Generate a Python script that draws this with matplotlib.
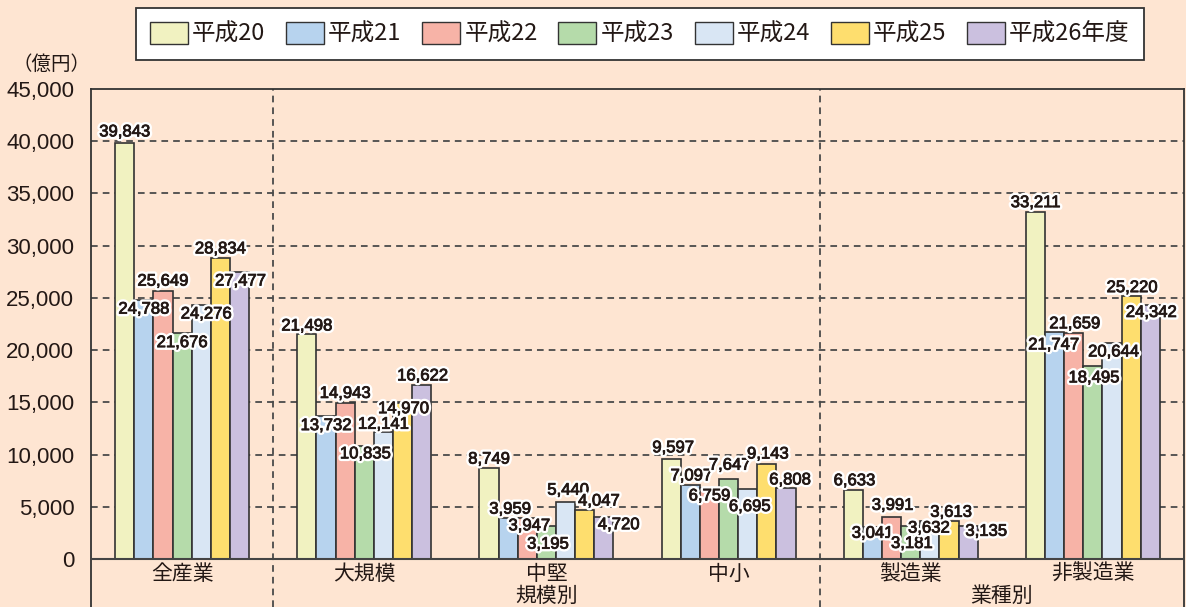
import matplotlib.pyplot as plt
import matplotlib.patheffects as pe
from matplotlib.patches import Patch
from matplotlib.ticker import FuncFormatter
import numpy as np

# データ（億円）
groups = ['全産業', '大規模', '中堅', '中小', '製造業', '非製造業']
series_names = ['平成20', '平成21', '平成22', '平成23', '平成24', '平成25', '平成26年度']
h20 = [39843, 21498, 8749, 9597, 6633, 33211]
h21 = [24788, 13732, 3959, 7097, 3041, 21747]
h22 = [25649, 14943, 3947, 6759, 3991, 21659]
h23 = [21676, 10835, 3195, 7647, 3181, 18495]
h24 = [24276, 12141, 5440, 6695, 3632, 20644]
h25 = [28834, 14970, 4720, 9143, 3613, 25220]
h26 = [27477, 16622, 4047, 6808, 3135, 24342]
series = [h20, h21, h22, h23, h24, h25, h26]

colors = ['#f1f2c1', '#b7d3ee', '#f7b3a7', '#b5dbaa', '#d9e6f4', '#fede6e', '#cbc0df']

# ラベル位置の微調整 (dx, dy) ピクセル、棒の上端からの位置
label_offsets = [
    [(0, 11), (0, 8.5), (0, 8.5), (2, 11), (1, 9), (0, 9.5)],
    [(0, -9), (0, -10), (2, 8.5), (1, 9), (0, -6), (-1, -13)],
    [(0, 10), (0, 9.5), (2, -8), (0, -7.5), (1, 12), (1, 9)],
    [(0, -10), (1, -8), (1.5, -18.5), (1, 14), (1, -17.7), (1, -12)],
    [(5, -8.5), (0, 8), (2.5, 12), (2, -17.5), (-1, -7), (1.5, -8.5)],
    [(0, 9), (1, -6), (34, -15), (1, 9.5), (2, 9), (1, 8)],
    [(1, -9), (1, 9.5), (-5, 15.7), (4, 8), (18, -5), (1, -7.7)],
]

BG = '#fee5d2'
INK = '#231815'
CJK = ['Noto Sans CJK JP', 'DejaVu Sans']
NUM = ['Liberation Sans', 'DejaVu Sans']

fig = plt.figure(figsize=(11.86, 6.07), dpi=100, facecolor=BG)
ax = fig.add_axes([91 / 1186, 0, 1093 / 1186, 518 / 607])
ax.set_facecolor(BG)

ymax = 45000
ymin = -(607 - 559) / 470 * ymax
ax.set_xlim(-0.5, 5.5)
ax.set_ylim(ymin, ymax)

x = np.arange(len(groups))
width = 0.105
n = len(series)

# グリッド（破線）
for yv in range(5000, 45000, 5000):
    ax.axhline(yv, color='#4a4a4a', lw=1.3, ls=(0, (3.7, 2.8)), zorder=1)
for xv in [0.5, 3.5]:
    ax.axvline(xv, color='#4a4a4a', lw=1.3, ls=(0, (3.7, 2.8)), zorder=1)

# 白フチ + 少し太めの数字
halo = [pe.Stroke(linewidth=4, foreground='white'),
        pe.Stroke(linewidth=0.6, foreground=INK), pe.Normal()]
for i, (vals, col) in enumerate(zip(series, colors)):
    xs = x + (i - (n - 1) / 2) * width
    ax.bar(xs, vals, width=width, color=col, edgecolor='#333333', linewidth=1.2, zorder=3)
    for j, v in enumerate(vals):
        dx, dy = label_offsets[i][j]
        ax.annotate(f'{v:,}', (xs[j], v), xytext=(dx, dy), textcoords='offset pixels',
                    ha='center', va='center', fontsize=12, family=NUM, color=INK,
                    path_effects=halo, zorder=5)

ax.axhline(0, color='#444444', lw=1.5, zorder=4)

# 枠線
for s in ['left', 'top', 'right']:
    ax.spines[s].set_color('#333333')
    ax.spines[s].set_linewidth(1.3)
ax.spines['bottom'].set_visible(False)

ax.set_xticks([])
ax.set_yticks(range(0, 45001, 5000))
ax.yaxis.set_major_formatter(FuncFormatter(lambda v, p: f'{int(v):,}'))
ax.tick_params(axis='y', length=0, pad=12, labelsize=16, labelcolor=INK)
for t in ax.get_yticklabels():
    t.set_family(NUM)

# カテゴリ名
for j, g in enumerate(groups):
    ax.annotate(g, (x[j], 0), xytext=(0, -15), textcoords='offset pixels',
                ha='center', va='center', fontsize=15, family=CJK, color=INK)
ax.annotate('規模別', (2, 0), xytext=(0, -37), textcoords='offset pixels',
            ha='center', va='center', fontsize=15, family=CJK, color=INK)
ax.annotate('業種別', (4.5, 0), xytext=(0, -37), textcoords='offset pixels',
            ha='center', va='center', fontsize=15, family=CJK, color=INK)

fig.text(52 / 1186, 1 - 64 / 607, '（億円）', ha='center', va='center',
         fontsize=14, family=CJK, color=INK)

# 凡例
handles = [Patch(facecolor=c, edgecolor='#333333', linewidth=1.0) for c in colors]
leg = fig.legend(handles, series_names, loc='upper left', bbox_to_anchor=(136 / 1186, 1 - 8 / 607),
                 ncol=7, frameon=True, fancybox=False, framealpha=1, edgecolor='#333333',
                 prop={'family': CJK, 'size': 17}, handlelength=1.61, handleheight=1.02,
                 handletextpad=0.17, columnspacing=0.88, borderpad=0.6, borderaxespad=0)
leg.get_frame().set_linewidth(1.3)
for t in leg.get_texts():
    t.set_color(INK)

fig.savefig('out.png', dpi=100, facecolor=BG)
